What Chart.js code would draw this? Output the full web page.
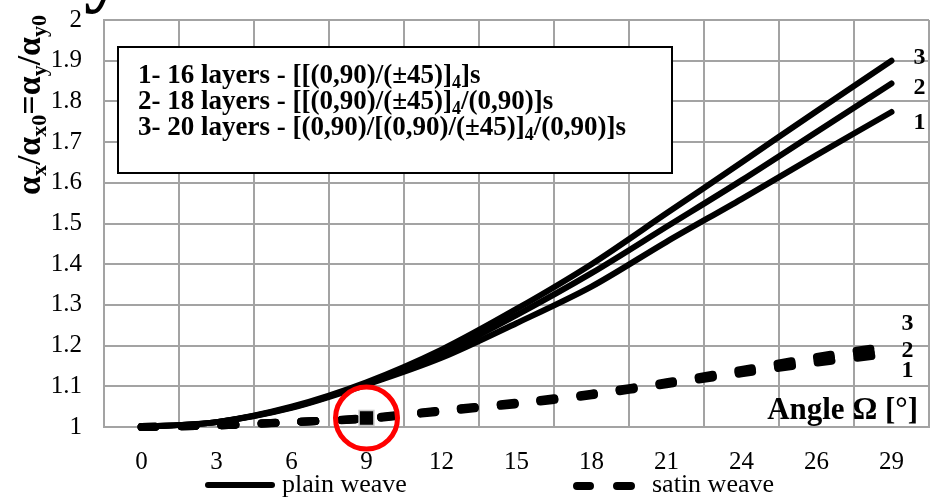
<!DOCTYPE html>
<html>
<head>
<meta charset="utf-8">
<script src="https://cdn.jsdelivr.net/npm/chart.js@4"></script>
<style>
  html, body { margin: 0; padding: 0; background: #fff; }
  #wrap { width: 930px; height: 499px; position: relative; }
</style>
</head>
<body>
<div id="wrap"><canvas id="chart"></canvas></div>
<script>
// values (angle in degrees -> alpha ratio)
const angles = ["0", "3", "6", "9", "12", "15", "18", "21", "24", "26", "29"];
const plain1 = [1.0, 1.012, 1.047, 1.104, 1.17, 1.255, 1.345, 1.455, 1.56, 1.668, 1.774];
const plain2 = [1.0, 1.012, 1.048, 1.107, 1.18, 1.275, 1.378, 1.492, 1.606, 1.725, 1.844];
const plain3 = [1.0, 1.012, 1.05, 1.11, 1.19, 1.29, 1.4, 1.525, 1.65, 1.776, 1.9];
const satin1 = [1.0, 1.004, 1.012, 1.02, 1.038, 1.056, 1.078, 1.105, 1.132, 1.158, 1.18];
const satin2 = [1.0, 1.004, 1.012, 1.021, 1.04, 1.058, 1.08, 1.108, 1.136, 1.165, 1.19];
const satin3 = [1.0, 1.004, 1.012, 1.022, 1.041, 1.06, 1.082, 1.11, 1.14, 1.172, 1.2];
const marked = [null, null, null, 1.022, null, null, null, null, null, null, null];

// legend box lines: [text, subscript, text]
const boxLines = [
  ["1- 16 layers - [[(0,90)/(\u00b145)]", "4", "]s"],
  ["2- 18 layers - [[(0,90)/(\u00b145)]", "4", "/(0,90)]s"],
  ["3- 20 layers - [(0,90)/[(0,90)/(\u00b145)]", "4", "/(0,90)]s"]
];

const SERIF = "'Liberation Serif', 'Times New Roman', serif";
const GRID = "#a3a3a3";

function line(data, dashed) {
  return {
    data: data,
    borderColor: "#000",
    borderWidth: dashed ? 8 : 6,
    borderDash: dashed ? [14, 26] : [],
    borderCapStyle: "round",
    borderJoinStyle: "round",
    pointRadius: 0,
    tension: 0.3,
    fill: false,
    clip: false,
    order: 2
  };
}

const extras = {
  id: "extras",
  beforeDatasetsDraw(chart) {
    const ctx = chart.ctx;
    ctx.save();
    ctx.fillStyle = "#fff";
    ctx.fillRect(118, 47, 554, 126);
    ctx.strokeStyle = "#000";
    ctx.lineWidth = 2;
    ctx.strokeRect(118, 47, 554, 126);
    ctx.fillStyle = "#000";
    ctx.textBaseline = "alphabetic";
    boxLines.forEach(function (p, i) {
      const y = 83 + i * 26;
      let x = 138;
      ctx.font = "bold 27px " + SERIF;
      ctx.fillText(p[0], x, y);
      x += ctx.measureText(p[0]).width;
      ctx.font = "bold 18px " + SERIF;
      ctx.fillText(p[1], x, y + 5);
      x += ctx.measureText(p[1]).width;
      ctx.font = "bold 27px " + SERIF;
      ctx.fillText(p[2], x, y);
    });
    ctx.restore();
  },
  afterDraw(chart) {
    const ctx = chart.ctx;
    const xs = chart.scales.x, ys = chart.scales.y;
    const last = angles.length - 1;
    ctx.save();
    ctx.fillStyle = "#000";

    // curve numbers at the right
    ctx.font = "bold 24px " + SERIF;
    ctx.textAlign = "center";
    ctx.textBaseline = "middle";
    const xe = xs.getPixelForValue(last);
    [[plain3, "3", -3], [plain2, "2", 4], [plain1, "1", 11]].forEach(function (d) {
      ctx.fillText(d[1], xe + 28, ys.getPixelForValue(d[0][last]) + d[2]);
    });
    [[satin3, "3", -22], [satin2, "2", 1], [satin1, "1", 17]].forEach(function (d) {
      ctx.fillText(d[1], xe + 16, ys.getPixelForValue(d[0][last]) + d[2]);
    });

    // axis name inside the plot
    ctx.font = "bold 31px " + SERIF;
    ctx.textAlign = "right";
    ctx.textBaseline = "alphabetic";
    ctx.fillText("Angle \u03a9 [\u00b0]", 918, 419);

    // y title, rotated, with subscripts
    const parts = [["\u03b1", 0], ["x", 1], ["/\u03b1", 0], ["x0", 1], ["=\u03b1", 0], ["y", 1], ["/\u03b1", 0], ["y0", 1]];
    const big = "bold 34px " + SERIF, small = "bold 22px " + SERIF;
    let total = 0;
    parts.forEach(function (p) {
      ctx.font = p[1] ? small : big;
      total += ctx.measureText(p[0]).width;
    });
    ctx.translate(40, 105);
    ctx.rotate(-Math.PI / 2);
    ctx.textAlign = "left";
    let u = -total / 2;
    parts.forEach(function (p) {
      ctx.font = p[1] ? small : big;
      ctx.fillText(p[0], u, p[1] ? 6 : 0);
      u += ctx.measureText(p[0]).width;
    });
    ctx.setTransform(1, 0, 0, 1, 0, 0);

    // bottom legend
    ctx.strokeStyle = "#000";
    ctx.lineCap = "round";
    ctx.lineWidth = 6;
    ctx.beginPath();
    ctx.moveTo(208, 485);
    ctx.lineTo(272, 485);
    ctx.stroke();
    ctx.lineWidth = 8;
    ctx.beginPath();
    ctx.moveTo(577, 486); ctx.lineTo(590, 486);
    ctx.moveTo(617, 486); ctx.lineTo(631, 486);
    ctx.stroke();
    ctx.font = "26px " + SERIF;
    ctx.textAlign = "left";
    ctx.textBaseline = "middle";
    ctx.fillText("plain weave", 282, 485);
    ctx.fillText("satin weave", 652, 485);

    // fragment of a heading cut off at the top
    ctx.font = "bold 80px " + SERIF;
    ctx.textBaseline = "alphabetic";
    ctx.fillText("y", 84, -3);
    ctx.restore();
  }
};

new Chart(document.getElementById("chart"), {
  type: "line",
  data: {
    labels: angles,
    datasets: [
      {
        data: marked,
        showLine: false,
        pointStyle: "circle",
        pointRadius: 31,
        pointBorderWidth: 5,
        pointBorderColor: "#ff0000",
        pointBackgroundColor: "rgba(0,0,0,0)",
        clip: false,
        order: 0
      },
      {
        data: marked,
        showLine: false,
        pointStyle: "rect",
        pointRadius: 10.5,
        pointBorderWidth: 1.5,
        pointBorderColor: "#c8c8c8",
        pointBackgroundColor: "#000",
        clip: false,
        order: 1
      },
      line(plain1, false),
      line(plain2, false),
      line(plain3, false),
      line(satin1, true),
      line(satin2, true),
      line(satin3, true)
    ]
  },
  options: {
    responsive: true,
    maintainAspectRatio: false,
    animation: false,
    events: [],
    layout: { autoPadding: false, padding: { top: 20, right: 1, left: 0, bottom: 0 } },
    plugins: {
      legend: { display: false },
      tooltip: { enabled: false }
    },
    scales: {
      x: {
        type: "category",
        offset: true,
        grid: { offset: true, color: GRID, lineWidth: 2, drawTicks: false },
        border: { color: GRID, width: 2 },
        ticks: { color: "#000", font: { family: SERIF, size: 25 }, padding: 20, maxRotation: 0, autoSkip: false },
        afterFit(scale) { scale.height = 72; }
      },
      y: {
        min: 1,
        max: 2,
        grid: { color: GRID, lineWidth: 2, drawTicks: false },
        border: { color: GRID, width: 2 },
        ticks: {
          stepSize: 0.1,
          color: "#000",
          font: { family: SERIF, size: 25 },
          padding: 22,
          callback: function (v) { return String(Math.round(v * 10) / 10); }
        },
        afterFit(scale) {
          scale.width = 104;
          scale.paddingTop = 0;
          scale.paddingBottom = 0;
        }
      }
    }
  },
  plugins: [extras]
});
</script>
</body>
</html>
